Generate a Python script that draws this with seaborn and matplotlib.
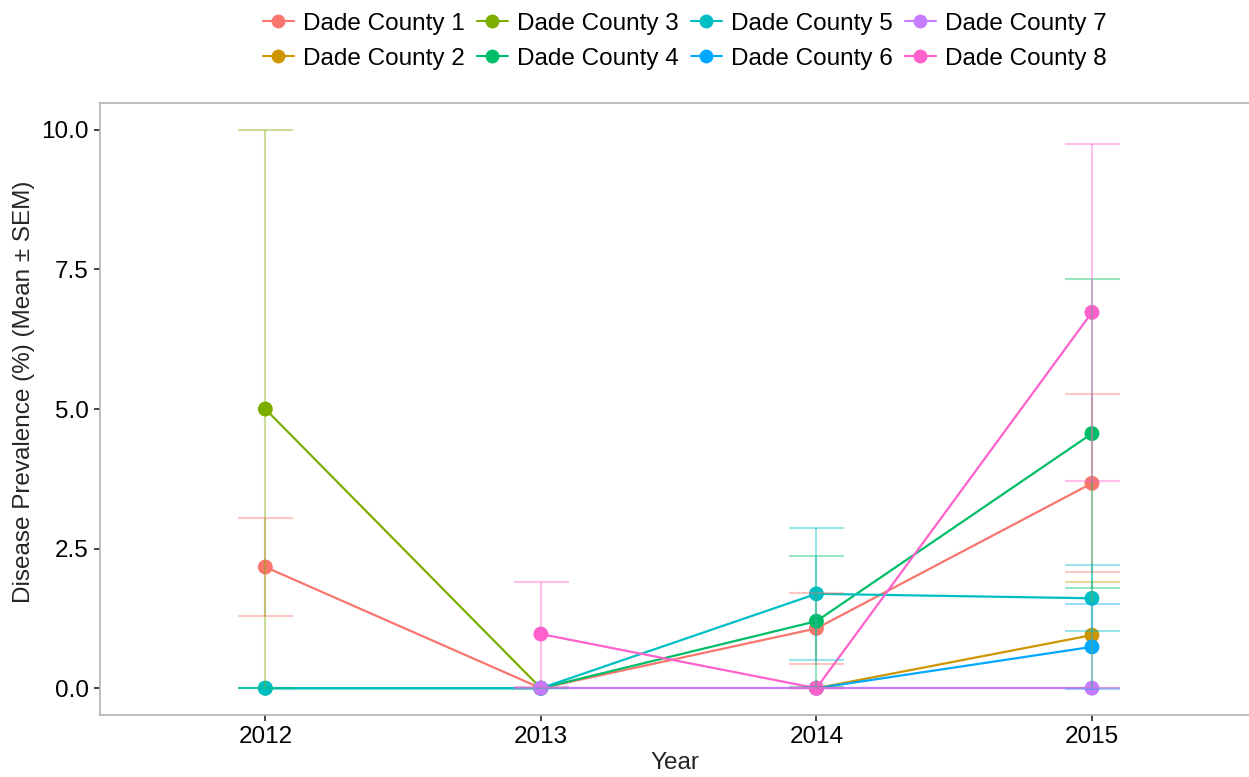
import matplotlib
matplotlib.use('Agg')
import matplotlib.pyplot as plt
from matplotlib.lines import Line2D
import numpy as np
import pandas as pd
import seaborn as sns

years = [2012, 2013, 2014, 2015]
counties = ['Dade County 1', 'Dade County 2', 'Dade County 3', 'Dade County 4',
            'Dade County 5', 'Dade County 6', 'Dade County 7', 'Dade County 8']
nan = np.nan
mean_c1 = [2.17, 0.0, 1.07, 3.67]
mean_c2 = [nan, nan, 0.0, 0.95]
mean_c3 = [5.0, 0.0, nan, nan]
mean_c4 = [0.0, 0.0, 1.20, 4.56]
mean_c5 = [0.0, 0.0, 1.69, 1.61]
mean_c6 = [nan, nan, 0.0, 0.74]
mean_c7 = [nan, 0.0, 0.0, 0.0]
mean_c8 = [nan, 0.97, 0.0, 6.73]
sem_c1 = [0.87, 0.0, 0.64, 1.59]
sem_c2 = [nan, nan, 0.0, 0.95]
sem_c3 = [5.0, 0.0, nan, nan]
sem_c4 = [0.0, 0.0, 1.17, 2.76]
sem_c5 = [0.0, 0.0, 1.18, 0.59]
sem_c6 = [nan, nan, 0.0, 0.76]
sem_c7 = [nan, 0.0, 0.0, 0.0]
sem_c8 = [nan, 0.94, 0.0, 3.02]

colors = ['#F8766D', '#CD9600', '#7CAE00', '#00BE67',
          '#00BFC4', '#00A9FF', '#C77CFF', '#FF61CC']

means = [mean_c1, mean_c2, mean_c3, mean_c4, mean_c5, mean_c6, mean_c7, mean_c8]
sems = [sem_c1, sem_c2, sem_c3, sem_c4, sem_c5, sem_c6, sem_c7, sem_c8]

rows = []
for name, m, s in zip(counties, means, sems):
    for yr, mv, sv in zip(years, m, s):
        if not np.isnan(mv):
            rows.append({'county': name, 'year': yr, 'mean': mv, 'sem': sv})
df = pd.DataFrame(rows)

sns.set_style("white")
plt.rcParams['font.family'] = ['Liberation Sans', 'DejaVu Sans']
fs = 17.5

fig = plt.figure(figsize=(12.49, 7.77), dpi=100)
ax = fig.add_axes([100 / 1249, 62 / 777, 1149 / 1249, 612 / 777])

palette = dict(zip(counties, colors))
sns.lineplot(data=df, x='year', y='mean', hue='county', palette=palette,
             linewidth=1.6, legend=False, ax=ax, zorder=2)
sns.scatterplot(data=df, x='year', y='mean', hue='county', palette=palette,
                s=115, linewidth=0, legend=False, ax=ax, zorder=3)

for name in counties:
    sub = df[df.county == name]
    ax.errorbar(sub.year, sub['mean'], yerr=sub['sem'], fmt='none',
                ecolor=palette[name], alpha=0.4, elinewidth=1.5,
                capsize=19.8, capthick=1.5, zorder=4)

ax.set_xlim(2011.40, 2015.57)
ax.set_ylim(-0.48, 10.48)
ax.set_xticks(years)
ax.set_xticklabels([str(y) for y in years])
ax.set_yticks([0, 2.5, 5, 7.5, 10])
ax.set_yticklabels(['0.0', '2.5', '5.0', '7.5', '10.0'])
ax.tick_params(axis='both', labelsize=fs, colors='#222222', length=4,
               width=1.2, direction='out', pad=4, left=True, bottom=True)
ax.tick_params(labelcolor='black')
for side in ['left', 'bottom', 'top']:
    ax.spines[side].set_color('#b3b3b3')
    ax.spines[side].set_linewidth(1.2)
ax.spines['right'].set_visible(False)

ax.set_xlabel('Year', fontsize=fs, labelpad=3)
ax.set_ylabel('Disease Prevalence (%) (Mean \u00b1 SEM)', fontsize=fs)
ax.yaxis.set_label_coords(-0.057, 0.528)

handles = [Line2D([], [], color=c, marker='o', markersize=10, linewidth=1.5,
                  markeredgewidth=0) for c in colors]
fig.legend(handles, counties, loc='upper center', bbox_to_anchor=(0.548, 1.012),
           ncol=4, frameon=False, fontsize=fs, handlelength=1.3,
           handletextpad=0.35, columnspacing=0.5, labelspacing=0.55,
           labelcolor='black')

fig.savefig('out.png', dpi=100)
